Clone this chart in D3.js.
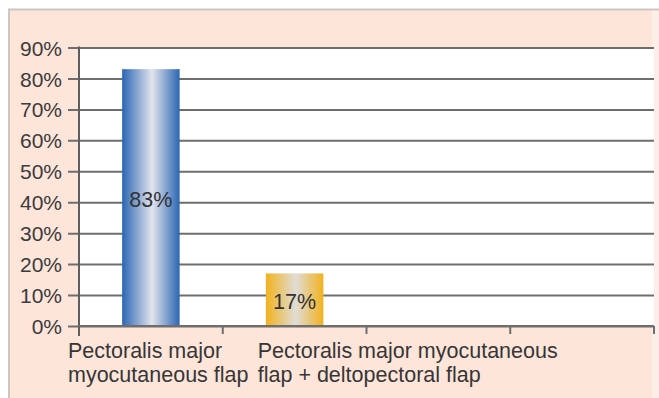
<!DOCTYPE html>
<html>
<head>
<meta charset="utf-8">
<script src="https://cdn.jsdelivr.net/npm/d3@7/dist/d3.min.js"></script>
<style>
  html, body { margin: 0; padding: 0; background: #ffffff; }
  svg { display: block; font-family: "Liberation Sans", Arial, sans-serif; }
</style>
</head>
<body>
<svg id="chart" width="659" height="398"></svg>
<script>
// Flap type used for reconstruction (share of patients)
const categories = ["pmmc", "pmmc_dp", "empty3", "empty4"];
const categoryLines = [
  ["Pectoralis major", "myocutaneous flap"],
  ["Pectoralis major myocutaneous", "flap + deltopectoral flap"],
  [],
  []
];
const values = [83, 17, null, null];
const valueLabels = ["83%", "17%", "", ""];
const yTicks = [0, 10, 20, 30, 40, 50, 60, 70, 80, 90];
const gradients = ["gradBlue", "gradGold", null, null];

const W = 659, H = 398;
const margin = { left: 79, right: 5, top: 47.5, bottom: 72 };
const plotRight = W - margin.right;
const plotBottom = H - margin.bottom;

const svg = d3.select("#chart");

// background panel with thin border on top and left
svg.append("rect").attr("x", 0).attr("y", 0).attr("width", W).attr("height", H).attr("fill", "#ffffff");
svg.append("rect").attr("x", 9).attr("y", 9).attr("width", W - 9).attr("height", H - 9).attr("fill", "#fde5da");
svg.append("rect").attr("x", 652).attr("y", 9).attr("width", 7).attr("height", H - 9).attr("fill", "#fdeee8");
svg.append("path").attr("d", `M9,${H} V9.5 H${W}`).attr("fill", "none")
  .attr("stroke", "#cdc6c2").attr("stroke-width", 2);

const x = d3.scaleBand().domain(categories).range([margin.left, plotRight]).padding(0);
const y = d3.scaleLinear().domain([0, 90]).range([plotBottom, margin.top]);

// plot area
svg.append("rect").attr("x", margin.left).attr("y", margin.top)
  .attr("width", plotRight - margin.left).attr("height", plotBottom - margin.top)
  .attr("fill", "#ffffff");

// gradients for the cylinder-like bars
const defs = svg.append("defs");
function makeGrad(id, edge, mid) {
  const g = defs.append("linearGradient").attr("id", id)
    .attr("x1", "0%").attr("x2", "100%").attr("y1", "0%").attr("y2", "0%");
  g.append("stop").attr("offset", "0%").attr("stop-color", edge);
  g.append("stop").attr("offset", "52%").attr("stop-color", mid);
  g.append("stop").attr("offset", "100%").attr("stop-color", edge);
}
makeGrad("gradBlue", "#2b66b4", "#e2e4ee");
makeGrad("gradGold", "#f2b21e", "#e0dcd6");

// y axis with gridlines
const yAxis = d3.axisLeft(y).tickValues(yTicks).tickFormat(d => d + "%")
  .tickSize(-(plotRight - margin.left)).tickPadding(17);
const gy = svg.append("g").attr("transform", `translate(${margin.left},0)`).call(yAxis);
gy.select(".domain").remove();
gy.selectAll(".tick line").attr("x1", -11).attr("stroke", "#6e6e6e").attr("stroke-width", 2);
gy.selectAll(".tick text").attr("font-size", 21).attr("fill", "#3b3b3b")
  .attr("font-family", "Liberation Sans, Arial, sans-serif").attr("x", -17).attr("dy", "0.36em");

// bars
const data = categories.map((c, i) => ({ c, v: values[i], label: valueLabels[i], grad: gradients[i] }))
  .filter(d => d.v != null);
const barW = x.bandwidth() * 0.4;
svg.append("g").selectAll("rect").data(data).join("rect")
  .attr("x", d => x(d.c) + (x.bandwidth() - barW) / 2)
  .attr("y", d => y(d.v))
  .attr("width", barW)
  .attr("height", d => y(0) - y(d.v))
  .attr("fill", d => `url(#${d.grad})`);

// value labels
svg.append("g").selectAll("text").data(data).join("text")
  .attr("x", d => x(d.c) + x.bandwidth() / 2)
  .attr("y", d => (y(d.v) + y(0)) / 2 + 2)
  .attr("text-anchor", "middle").attr("dominant-baseline", "central")
  .attr("font-size", 21.5).attr("fill", "#333333")
  .text(d => d.label);

// axes lines
svg.append("line").attr("x1", margin.left).attr("x2", margin.left)
  .attr("y1", margin.top - 1).attr("y2", plotBottom + 10)
  .attr("stroke", "#5e5e5e").attr("stroke-width", 2);
svg.append("line").attr("x1", margin.left).attr("x2", plotRight)
  .attr("y1", plotBottom).attr("y2", plotBottom)
  .attr("stroke", "#6e6e6e").attr("stroke-width", 2);
const tickXs = categories.map(c => x(c)).concat([x.range()[1]]);
svg.append("g").selectAll("line").data(tickXs.slice(1)).join("line")
  .attr("x1", d => d).attr("x2", d => d)
  .attr("y1", plotBottom).attr("y2", plotBottom + 8)
  .attr("stroke", "#6e6e6e").attr("stroke-width", 2);

// category labels (left-aligned two-line blocks)
const labelShift = [-11, 35, 0, 0];
const catG = svg.append("g");
categories.forEach((c, i) => {
  const t = catG.append("text")
    .attr("x", x(c) + labelShift[i]).attr("y", 358)
    .attr("font-size", 21.5).attr("fill", "#363636");
  categoryLines[i].forEach((line, k) => {
    t.append("tspan").attr("x", x(c) + labelShift[i]).attr("dy", k === 0 ? 0 : 24).text(line);
  });
});
</script>
</body>
</html>
